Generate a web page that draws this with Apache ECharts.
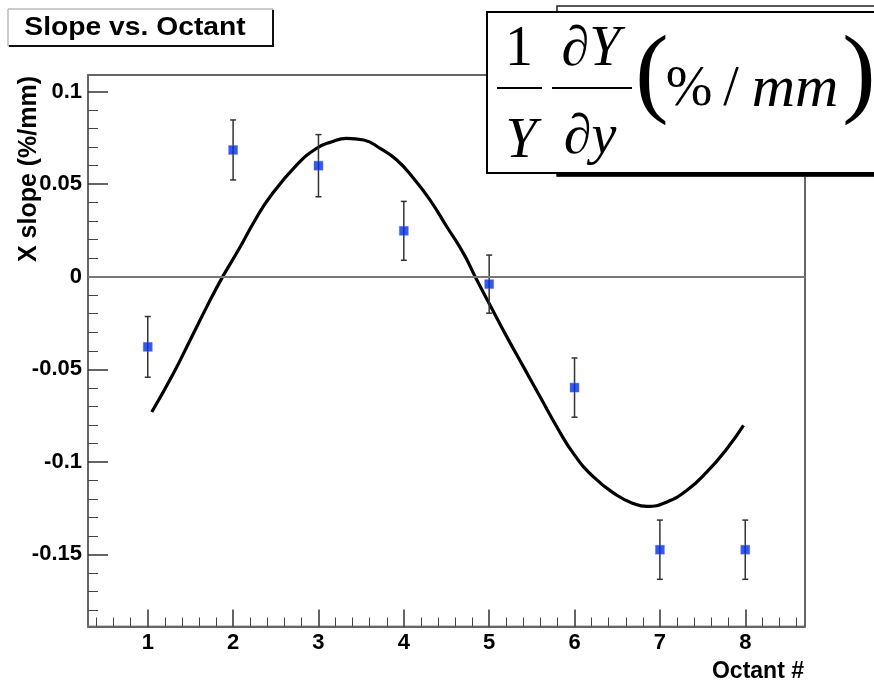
<!DOCTYPE html>
<html>
<head>
<meta charset="utf-8">
<script src="https://cdn.jsdelivr.net/npm/echarts@6/dist/echarts.min.js"></script>
<style>html,body{margin:0;padding:0;background:#fff;}#c{width:874px;height:685px;}</style>
</head>
<body>
<div id="c"></div>
<script>
// Data points (octant, slope, error)
const octants = [1, 2, 3, 4, 5, 6, 7, 8];
const slopes = [-0.0379, 0.0685, 0.0600, 0.0248, -0.0040, -0.0599, -0.1475, -0.1475];
const errors = [0.0164, 0.0162, 0.0168, 0.0159, 0.0157, 0.0160, 0.0160, 0.0160];

// Fitted curve
const fitX = [1.047, 1.300, 1.496, 1.691, 1.867, 2.062, 2.250, 2.433, 2.746, 2.980, 3.150, 3.330, 3.530, 3.722, 3.918, 4.113, 4.308, 4.504, 4.699, 4.836, 5.011, 5.207, 5.402, 5.598, 5.793, 5.988, 6.222, 6.496, 6.691, 6.848, 7.082, 7.317, 7.551, 7.785, 7.980];
const fitY = [-0.0731, -0.0523, -0.0343, -0.0163, -0.0009, 0.0144, 0.0300, 0.0432, 0.0604, 0.0694, 0.0728, 0.0748, 0.0739, 0.0694, 0.0631, 0.0532, 0.0414, 0.0270, 0.0126, 0.0000, -0.0154, -0.0325, -0.0487, -0.0650, -0.0812, -0.0956, -0.1082, -0.1181, -0.1226, -0.1241, -0.1217, -0.1154, -0.1055, -0.0929, -0.0803];

// Tick positions and labels
const xMajor = [1, 2, 3, 4, 5, 6, 7, 8];
const xMinor = [0.4,0.6,0.8,1.2,1.4,1.6,1.8,2.2,2.4,2.6,2.8,3.2,3.4,3.6,3.8,4.2,4.4,4.6,4.8,5.2,5.4,5.6,5.8,6.2,6.4,6.6,6.8,7.2,7.4,7.6,7.8,8.2,8.4,8.6];
const yMajor = [-0.15, -0.1, -0.05, 0, 0.05, 0.1];
const yMajorLabels = ['-0.15', '-0.1', '-0.05', '0', '0.05', '0.1'];
const yMinor = [-0.18,-0.17,-0.16,-0.14,-0.13,-0.12,-0.11,-0.09,-0.08,-0.07,-0.06,-0.04,-0.03,-0.02,-0.01,0.01,0.02,0.03,0.04,0.06,0.07,0.08,0.09];

const titleText = 'Slope vs. Octant';
const xTitle = 'Octant #';
const yTitle = 'X slope (%/mm)';

const chart = echarts.init(document.getElementById('c'), null, {renderer: 'canvas'});

const points = octants.map((o, i) => [o, slopes[i]]);
const bars = octants.map((o, i) => [o, slopes[i] - errors[i], slopes[i] + errors[i]]);
const curve = fitX.map((x, i) => [x, fitY[i]]);

const labelFont = {color: '#000', fontWeight: 'bold', fontSize: 22, fontFamily: 'Liberation Sans, Arial, sans-serif'};
const XMIN = 0.3, XMAX = 8.7, YMIN = -0.189, YMAX = 0.109;

const serif = 'Liberation Serif, Times New Roman, serif';

const option = {
  animation: false,
  backgroundColor: '#fff',
  grid: {left: 88, right: 69, top: 75, bottom: 58.5, show: true, borderColor: '#333', borderWidth: 1.5, backgroundColor: 'transparent'},
  xAxis: [
    {type: 'value', min: XMIN, max: XMAX, position: 'bottom',
     axisLine: {show: true, onZero: false, lineStyle: {color: '#666', width: 2}},
     axisTick: {show: true, inside: true, length: 17, customValues: xMajor, lineStyle: {color: '#333', width: 1.5}},
     axisLabel: {show: true, customValues: xMajor, margin: 5, ...labelFont, formatter: v => String(Math.round(v))},
     splitLine: {show: false}},
    {type: 'value', min: XMIN, max: XMAX, position: 'bottom',
     axisLine: {show: false, onZero: false},
     axisTick: {show: true, inside: true, length: 9, customValues: xMinor, lineStyle: {color: '#444', width: 1}},
     axisLabel: {show: false}, splitLine: {show: false}}
  ],
  yAxis: [
    {type: 'value', min: YMIN, max: YMAX, position: 'left',
     axisLine: {show: true, onZero: false, lineStyle: {color: '#666', width: 2}},
     axisTick: {show: true, inside: true, length: 20, customValues: yMajor, lineStyle: {color: '#333', width: 1.5}},
     axisLabel: {show: true, customValues: yMajor, margin: 6, ...labelFont,
       formatter: v => { const i = yMajor.findIndex(t => Math.abs(t - v) < 1e-9); return i >= 0 ? yMajorLabels[i] : ''; }},
     splitLine: {show: false}},
    {type: 'value', min: YMIN, max: YMAX, position: 'left',
     axisLine: {show: false, onZero: false},
     axisTick: {show: true, inside: true, length: 10, customValues: yMinor, lineStyle: {color: '#444', width: 1}},
     axisLabel: {show: false}, splitLine: {show: false}}
  ],
  series: [
    {type: 'line', name: 'fit', data: curve, xAxisIndex: 0, yAxisIndex: 0, smooth: 0.5, showSymbol: false, symbol: 'none',
     lineStyle: {color: '#000', width: 3.2}, z: 3,
     markLine: {silent: true, symbol: ['none', 'none'], label: {show: false}, lineStyle: {color: '#777', width: 2, type: 'solid'},
       data: [{yAxis: 0}]}},
    {type: 'custom', name: 'errors', data: bars, xAxisIndex: 0, yAxisIndex: 0, z: 4,
     renderItem: function (params, api) {
       const x = api.value(0);
       const lo = api.coord([x, api.value(1)]);
       const hi = api.coord([x, api.value(2)]);
       const cw = 3;
       const st = {stroke: '#333', lineWidth: 1.5};
       return {type: 'group', children: [
         {type: 'line', shape: {x1: lo[0], y1: lo[1], x2: hi[0], y2: hi[1]}, style: st},
         {type: 'line', shape: {x1: lo[0] - cw, y1: lo[1], x2: lo[0] + cw, y2: lo[1]}, style: st},
         {type: 'line', shape: {x1: hi[0] - cw, y1: hi[1], x2: hi[0] + cw, y2: hi[1]}, style: st}
       ]};
     }},
    {type: 'scatter', name: 'data', data: points, xAxisIndex: 0, yAxisIndex: 0, symbol: 'rect', symbolSize: 9, z: 5,
     itemStyle: {color: '#0030e8', borderColor: '#6070e0', borderWidth: 0.5}}
  ],
  graphic: [
    // title box
    {type: 'rect', shape: {x: 8, y: 9, width: 265, height: 37}, style: {fill: '#fff', stroke: '#999', lineWidth: 1}, z: 10},
    {type: 'polyline', shape: {points: [[273, 10], [273, 46], [9, 46]]}, style: {stroke: '#111', lineWidth: 2, fill: null}, z: 11},
    {type: 'text', x: 135, y: 28, scaleX: 1.13, style: {text: titleText, x: 0, y: 0, align: 'center', verticalAlign: 'middle',
      font: 'bold 25px Liberation Sans, Arial, sans-serif', fill: '#000'}, z: 12},
    // axis titles
    {type: 'text', x: 29, y: 169, rotation: Math.PI / 2, style: {text: yTitle, x: 0, y: 0, align: 'center', verticalAlign: 'middle',
      font: 'bold 25px Liberation Sans, Arial, sans-serif', fill: '#000'}, z: 12},
    {type: 'text', x: 804, y: 672, style: {text: xTitle, x: 0, y: 0, align: 'right', verticalAlign: 'middle',
      font: 'bold 23px Liberation Sans, Arial, sans-serif', fill: '#000'}, z: 12},
    // formula box (with box behind)
    {type: 'rect', shape: {x: 557, y: 6, width: 330, height: 170}, style: {fill: '#fff', stroke: '#222', lineWidth: 1.5}, z: 10},
    {type: 'line', shape: {x1: 557, y1: 175, x2: 874, y2: 175}, style: {stroke: '#000', lineWidth: 3}, z: 10},
    {type: 'rect', shape: {x: 487, y: 12, width: 400, height: 161}, style: {fill: '#fff', stroke: '#000', lineWidth: 2}, z: 11},
    {type: 'text', x: 519, y: 50, style: {text: '1', x: 0, y: 0, align: 'center', verticalAlign: 'middle', font: '56px ' + serif, fill: '#000'}, z: 12},
    {type: 'line', shape: {x1: 497, y1: 88, x2: 542, y2: 88}, style: {stroke: '#000', lineWidth: 2}, z: 12},
    {type: 'text', x: 521, y: 142, style: {text: 'Y', x: 0, y: 0, align: 'center', verticalAlign: 'middle', font: 'italic 56px ' + serif, fill: '#000'}, z: 12},
    {type: 'text', x: 591, y: 50, style: {text: '\u2202Y', x: 0, y: 0, align: 'center', verticalAlign: 'middle', font: 'italic 56px ' + serif, fill: '#000'}, z: 12},
    {type: 'line', shape: {x1: 552, y1: 88, x2: 632, y2: 88}, style: {stroke: '#000', lineWidth: 2}, z: 12},
    {type: 'text', x: 590, y: 138, style: {text: '\u2202y', x: 0, y: 0, align: 'center', verticalAlign: 'middle', font: 'italic 56px ' + serif, fill: '#000'}, z: 12},
    {type: 'text', x: 652, y: 78, style: {text: '(', x: 0, y: 0, align: 'center', verticalAlign: 'middle', font: '100px ' + serif, fill: '#000'}, z: 12},
    {type: 'text', x: 689, y: 90, style: {text: '%', x: 0, y: 0, align: 'center', verticalAlign: 'middle', font: '56px ' + serif, fill: '#000'}, z: 12},
    {type: 'text', x: 731, y: 90, style: {text: '/', x: 0, y: 0, align: 'center', verticalAlign: 'middle', font: '56px ' + serif, fill: '#000'}, z: 12},
    {type: 'text', x: 795, y: 90, style: {text: 'mm', x: 0, y: 0, align: 'center', verticalAlign: 'middle', font: 'italic 60px ' + serif, fill: '#000'}, z: 12},
    {type: 'text', x: 859, y: 78, style: {text: ')', x: 0, y: 0, align: 'center', verticalAlign: 'middle', font: '100px ' + serif, fill: '#000'}, z: 12}
  ]
};
chart.setOption(option);
</script>
</body>
</html>
